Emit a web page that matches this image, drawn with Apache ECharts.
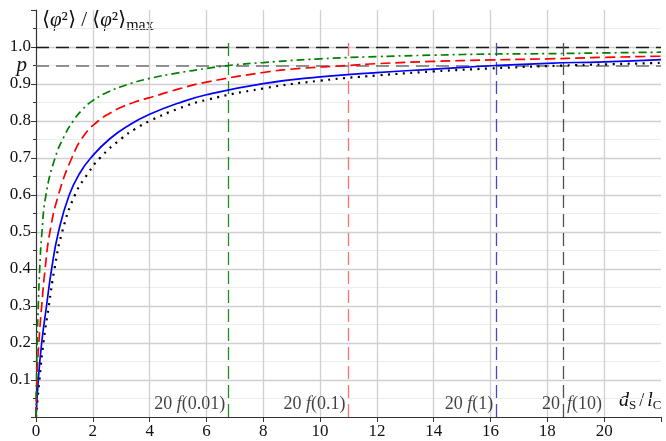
<!DOCTYPE html>
<html><head><meta charset="utf-8">
<script src="https://cdn.jsdelivr.net/npm/echarts@6/dist/echarts.min.js"></script>
<style>html,body{margin:0;padding:0;background:#fff}#c{width:666px;height:441px}</style>
</head><body><div id="c"></div>
<script>
// d_s/l_c values and <phi^2>/<phi^2>max for each curve
const greenX = [0, 0.02, 0.04, 0.08, 0.13, 0.21, 0.35, 0.67, 1.0, 1.31, 1.6, 1.96, 2.5, 3.2, 4, 5, 6, 6.77, 8, 10, 12, 14, 16, 18, 20, 22];
const greenY = [0, 0.10, 0.20, 0.30, 0.40, 0.50, 0.60, 0.70, 0.76, 0.80, 0.828, 0.853, 0.877, 0.898, 0.915, 0.930, 0.942, 0.950, 0.958, 0.968, 0.974, 0.978, 0.981, 0.982, 0.984, 0.986];
const redX = [0, 0.03, 0.10, 0.20, 0.32, 0.49, 0.79, 1.26, 1.7, 2.19, 2.6, 3.0, 3.5, 4, 5, 6, 8, 9.3, 11.0, 12, 14, 16, 18, 20, 22];
const redY = [0, 0.10, 0.20, 0.30, 0.40, 0.50, 0.60, 0.70, 0.762, 0.80, 0.821, 0.837, 0.852, 0.863, 0.886, 0.905, 0.931, 0.942, 0.950, 0.955, 0.961, 0.965, 0.968, 0.972, 0.975];
const blueX = [0, 0.08, 0.20, 0.37, 0.55, 0.79, 1.17, 1.55, 1.96, 2.6, 3.3, 4, 5, 6, 8, 10, 12, 14, 16.2, 18, 20, 22];
const blueY = [0, 0.10, 0.20, 0.30, 0.40, 0.50, 0.60, 0.66, 0.703, 0.752, 0.790, 0.818, 0.848, 0.871, 0.901, 0.919, 0.931, 0.940, 0.950, 0.956, 0.960, 0.966];
const blackX = [0, 0.12, 0.26, 0.45, 0.65, 0.92, 1.37, 1.8, 2.25, 3.0, 3.5, 4, 5, 6, 8, 10, 12, 14, 16, 18.55, 20, 22];
const blackY = [0, 0.10, 0.20, 0.30, 0.40, 0.50, 0.60, 0.655, 0.70, 0.752, 0.779, 0.800, 0.833, 0.857, 0.888, 0.909, 0.923, 0.934, 0.942, 0.950, 0.953, 0.957];

// positions where each curve reaches p
const markerX = [6.77, 11.0, 16.2, 18.55];
const markerTop = 1.02;
const markerLabelY = 0.035;
const markerLabels = ['20', '20', '20', '20'];
const markerArgs = ['0.01', '0.1', '1', '10'];
const pValue = 0.95;
const maxValue = 1.0;

const xTicks = [0, 2, 4, 6, 8, 10, 12, 14, 16, 18, 20];
const yTicks = [0.1, 0.2, 0.3, 0.4, 0.5, 0.6, 0.7, 0.8, 0.9, 1.0];

const FONT = '"Liberation Serif", "Times New Roman", serif';
const zip = (a, b) => a.map((v, i) => [v, b[i]]);

const chart = echarts.init(document.getElementById('c'), null, {renderer: 'canvas'});

function curve(name, xs, ys, color, type, width) {
  return {
    name, type: 'line', data: zip(xs, ys), showSymbol: false, smooth: 0.5,
    lineStyle: {color, width, type},
    z: 5, silent: true
  };
}

const vColors = ['#1f8f1f', '#ff7070', '#4848c0', '#505050'];

const series = [
  {
    type: 'line', data: [], silent: true,
    markLine: {
      symbol: 'none', silent: true, animation: false,
      data: [
        [{coord: [0, maxValue], lineStyle: {color: '#1a1a1a', width: 1.3, type: [13, 7]}}, {coord: [22, maxValue]}],
        [{coord: [0, pValue], lineStyle: {color: '#6e6e6e', width: 1.6, type: [13, 7]},
          label: {show: true, position: 'start', formatter: 'p', distance: 9, fontFamily: FONT, fontStyle: 'italic', fontSize: 21, color: '#111'}},
         {coord: [22, pValue]}]
      ].concat(markerX.map((x, i) => [
        {coord: [x, 0], lineStyle: {color: vColors[i], width: 1.3, type: [13, 6]}}, {coord: [x, markerTop]}
      ])),
      label: {show: false}
    }
  },
  curve('black', blackX, blackY, '#000', [2, 5.5], 2.2),
  curve('blue', blueX, blueY, '#0000ff', 'solid', 1.7),
  curve('red', redX, redY, '#ff0000', [10, 5], 1.7),
  curve('green', greenX, greenY, '#008000', [8, 4, 2, 4], 1.7),
  {
    type: 'scatter', symbolSize: 0, silent: true, z: 10,
    data: markerX.map((x, i) => ({
      value: [x, markerLabelY],
      label: {
        show: true, position: 'left', distance: 3,
        formatter: i === 3 ? '{n|' + markerLabels[i] + '}' : '{n|' + markerLabels[i] + ' }{i|f}{n|(' + markerArgs[i] + ')}',
      }
    })).concat([{
      value: [markerX[3], markerLabelY],
      label: {show: true, position: 'right', distance: 4, formatter: '{i|f}{n|(' + markerArgs[3] + ')}'}
    }]),
    label: {
      rich: {
        n: {fontFamily: FONT, fontSize: 18, color: '#111'},
        i: {fontFamily: FONT, fontSize: 18, fontStyle: 'italic', color: '#111'}
      }
    }
  }
];

chart.setOption({
  animation: false,
  backgroundColor: '#fff',
  grid: {left: 36, right: 5, top: 10, bottom: 24, containLabel: false},
  xAxis: {
    type: 'value', min: 0, max: 22, interval: 2,
    axisLine: {show: true, onZero: false, lineStyle: {color: '#333', width: 1.2}},
    axisTick: {show: true, length: 5, lineStyle: {color: '#333'}},
    axisLabel: {
      fontFamily: FONT, fontSize: 17, color: '#111', margin: 6,
      formatter: v => xTicks.includes(v) ? String(v) : ''
    },
    splitLine: {show: true, showMaxLine: false, showMinLine: false, lineStyle: {color: '#d0d0d0', width: 1.3}}
  },
  yAxis: {
    type: 'value', min: 0, max: 1.1, interval: 0.1,
    axisLine: {show: true, onZero: false, lineStyle: {color: '#333', width: 1.2}},
    axisTick: {show: true, length: 5, lineStyle: {color: '#333'}},
    minorTick: {show: true, splitNumber: 2, length: 3, lineStyle: {color: '#333'}},
    axisLabel: {
      fontFamily: FONT, fontSize: 17, color: '#111', margin: 5,
      formatter: v => {
        const t = yTicks.find(y => Math.abs(y - v) < 1e-6);
        return t !== undefined ? t.toFixed(1) : '';
      }
    },
    splitLine: {show: true, showMaxLine: false, showMinLine: false, lineStyle: {color: '#cfcfcf', width: 1.3}},
    minorSplitLine: {show: true, lineStyle: {color: '#ececec', width: 1.2}}
  },
  graphic: [
    {
      type: 'text', left: 42, top: 10, silent: true,
      style: {
        text: '{n|⟨}{i|φ}{n|²⟩ / ⟨}{i|φ}{n|²⟩}{s|max}',
        rich: {
          n: {fontFamily: FONT, fontSize: 21, fill: '#111'},
          i: {fontFamily: FONT, fontSize: 21, fontStyle: 'italic', fill: '#111'},
          s: {fontFamily: FONT, fontSize: 16, fill: '#111', padding: [10, 0, 0, 0]}
        }
      }
    },
    {
      type: 'text', left: 619, top: 391, silent: true,
      style: {
        text: '{i|d}{s|S}{n|/}{i|l}{s|C}',
        rich: {
          n: {fontFamily: FONT, fontSize: 18, fill: '#111', padding: [0, 3, 0, 3]},
          i: {fontFamily: FONT, fontSize: 20, fontStyle: 'italic', fill: '#111'},
          s: {fontFamily: FONT, fontSize: 13, fill: '#111', padding: [9, 0, 0, 0]}
        }
      }
    }
  ],
  series
});
</script>
</body></html>
